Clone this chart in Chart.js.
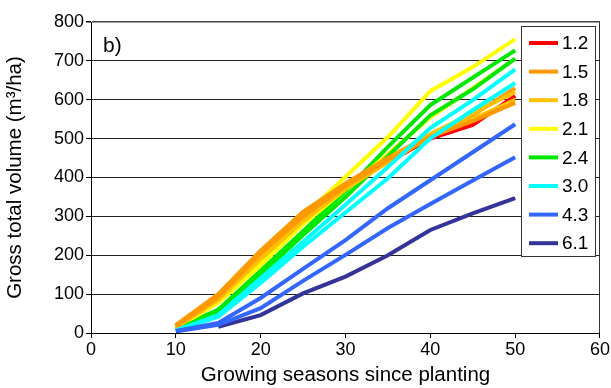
<!DOCTYPE html>
<html>
<head>
<meta charset="utf-8">
<script src="https://cdn.jsdelivr.net/npm/chart.js@4.4.1/dist/chart.umd.min.js"></script>
<style>
  html, body { margin: 0; padding: 0; background: #fff; }
  #wrap { width: 611px; height: 388px; }
</style>
</head>
<body>
<div id="wrap"><canvas id="c" width="611" height="388"></canvas></div>
<script>
// Growing seasons since planting (x values)
const seasons = [10, 15, 20, 25, 30, 35, 40, 45, 50];
// Legend labels (initial spacing)
const spacingLabels = ['1.2', '1.5', '1.8', '2.1', '2.4', '3.0', '4.3', '6.1'];
const spacingColors = ['#FF0000', '#FF9900', '#FFC000', '#FFFF00', '#00E800', '#00FFFF', '#3366FF', '#333399'];
// Gross total volume (m3/ha), two curves per spacing where visible
const vol12a = [18, 95, 200, 295, 375, 440, 500, 535, 610];
const vol15a = [20, 100, 212, 312, 385, 450, 510, 560, 630];
const vol15b = [17, 92, 205, 300, 378, 445, 505, 545, 592];
const vol18a = [15, 88, 195, 295, 375, 445, 512, 565, 620];
const vol18b = [14, 85, 190, 288, 370, 440, 505, 550, 600];
const vol21a = [12, 82, 185, 300, 402, 504, 622, 684, 756];
const vol21b = [12, 78, 175, 280, 370, 460, 555, 630, 706];
const vol24a = [10, 60, 160, 262, 365, 479, 586, 657, 727];
const vol24b = [9, 55, 150, 252, 350, 455, 560, 627, 706];
const vol30a = [7, 46, 141, 235, 330, 427, 527, 599, 678];
const vol30b = [6, 42, 129, 222, 310, 398, 501, 573, 643];
const vol43a = [5, 26, 90, 165, 239, 321, 393, 465, 537];
const vol43b = [4, 21, 64, 134, 201, 270, 332, 392, 452];
const vol61a = [null, 16, 46, 102, 145, 200, 265, 308, 347];
const xTicks = [0, 10, 20, 30, 40, 50, 60];
const yTicks = [0, 100, 200, 300, 400, 500, 600, 700, 800];

const series = [
  { s: 6, v: vol43b }, { s: 7, v: vol61a }, { s: 6, v: vol43a },
  { s: 5, v: vol30b }, { s: 5, v: vol30a },
  { s: 1, v: vol15b }, { s: 2, v: vol18b }, { s: 2, v: vol18a }, { s: 1, v: vol15a },
  { s: 0, v: vol12a },
  { s: 4, v: vol24b }, { s: 3, v: vol21b }, { s: 4, v: vol24a }, { s: 3, v: vol21a }
];

const datasets = series.map(o => ({
  label: spacingLabels[o.s],
  data: seasons.map((x, i) => ({ x: x, y: o.v[i] })),
  borderColor: spacingColors[o.s],
  backgroundColor: spacingColors[o.s],
  borderWidth: 4,
  pointRadius: 0,
  tension: 0,
  fill: false,
  spanGaps: false
}));

const FONT = "'Liberation Sans', Arial, sans-serif";

const extras = {
  id: 'extras',
  afterDatasetsDraw(chart) {
    const ctx = chart.ctx;
    ctx.save();
    // panel label
    ctx.fillStyle = '#000';
    ctx.font = '21px ' + FONT;
    ctx.textBaseline = 'middle';
    ctx.textAlign = 'left';
    ctx.fillText('b)', 103, 46);
    // legend box
    const bx = 521, by = 26, bw = 74, bh = 230;
    ctx.fillStyle = '#fff';
    ctx.fillRect(bx, by, bw, bh);
    ctx.strokeStyle = '#333';
    ctx.lineWidth = 1;
    ctx.strokeRect(bx + 0.5, by + 0.5, bw, bh);
    ctx.font = '19px ' + FONT;
    spacingLabels.forEach((lab, i) => {
      const y = 43 + i * 28.6;
      ctx.strokeStyle = spacingColors[i];
      ctx.lineWidth = 4;
      ctx.beginPath();
      ctx.moveTo(529, y);
      ctx.lineTo(558, y);
      ctx.stroke();
      ctx.fillStyle = '#000';
      ctx.fillText(lab, 562, y + 1);
    });
    ctx.restore();
  }
};

new Chart(document.getElementById('c'), {
  type: 'line',
  data: { datasets: datasets },
  options: {
    responsive: false,
    animation: false,
    devicePixelRatio: 1,
    layout: { padding: { left: 0, right: 10, top: 22, bottom: 0 } },
    plugins: { legend: { display: false }, tooltip: { enabled: false } },
    scales: {
      x: {
        type: 'linear',
        min: 0, max: 60,
        afterBuildTicks: s => { s.ticks = xTicks.map(v => ({ value: v })); },
        afterFit: s => { s.height = 55; },
        border: { color: '#000', width: 1 },
        grid: {
          color: c => (c.tick && c.tick.value === 60) ? '#333' : 'rgba(0,0,0,0)',
          tickColor: '#000',
          tickLength: 5,
          lineWidth: 1
        },
        ticks: { color: '#000', font: { size: 18, family: FONT }, padding: 1, maxRotation: 0 },
        title: { display: true, text: 'Growing seasons since planting', color: '#000', font: { size: 20.5, family: FONT }, padding: { top: 0, bottom: 0 } }
      },
      y: {
        min: 0, max: 800,
        afterBuildTicks: s => { s.ticks = yTicks.map(v => ({ value: v })); },
        afterFit: s => { s.width = 91; },
        border: { color: '#000', width: 1 },
        grid: {
          color: c => (c.tick && c.tick.value === 800) ? '#444' : '#222',
          tickColor: '#000',
          tickLength: 5,
          lineWidth: c => (c.tick && c.tick.value === 800) ? 1.5 : 1
        },
        ticks: { color: '#000', font: { size: 18, family: FONT }, padding: 2 },
        title: { display: true, text: 'Gross total volume (m³/ha)', color: '#000', font: { size: 20.5, family: FONT }, padding: { top: 3, bottom: 0 } }
      }
    }
  },
  plugins: [extras]
});
</script>
</body>
</html>
